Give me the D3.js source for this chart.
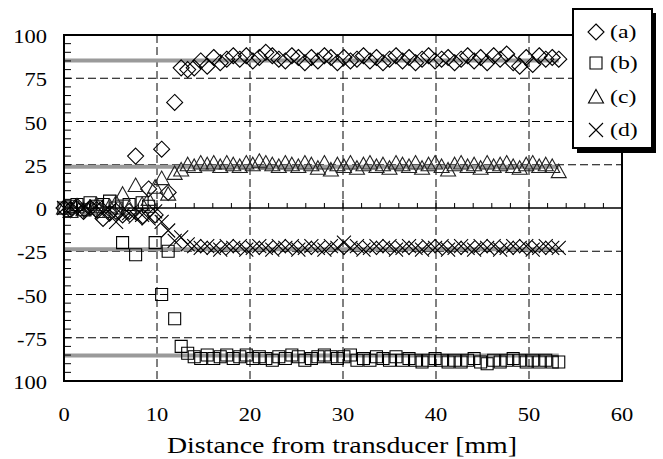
<!DOCTYPE html>
<html><head><meta charset="utf-8">
<script src="https://cdn.jsdelivr.net/npm/d3@7"></script>
<style>body{margin:0;background:#fff}svg{display:block}</style>
</head><body><svg id="c" width="663" height="459"></svg>
<script>
const distance = [0,0.7,1.4,2.1,2.8,3.5,4.2,4.9,5.6,6.3,
  7.0,7.7,8.4,9.1,9.8,10.5,11.2,11.9,12.6,13.3,
  14.0,14.7,15.4,16.1,16.8,17.5,18.2,18.9,19.6,20.3,
  21.0,21.7,22.4,23.1,23.8,24.5,25.2,25.9,26.6,27.3,
  28.0,28.7,29.4,30.1,30.8,31.5,32.2,32.9,33.6,34.3,
  35.0,35.7,36.4,37.1,37.8,38.5,39.2,39.9,40.6,41.3,
  42.0,42.7,43.4,44.1,44.8,45.5,46.2,46.9,47.6,48.3,
  49.0,49.7,50.4,51.1,51.8,52.5,53.2];
const seriesA = [0,-1,1,-2,0,-1,-6,-3,-2,-4,
  -2,30,-5,11,-4,34,9,61,81,80,
  81,85,82,87,84,86,88,86,88,85,
  87,90,88,86,85,88,87,84,87,85,
  88,87,84,87,85,86,88,85,87,84,
  86,88,85,87,84,86,88,85,86,87,
  84,86,88,85,87,84,88,86,89,84,
  82,87,83,88,86,87,86];
const seriesB = [0,1,2,-1,3,1,2,4,0,-20,
  2,-27,3,1,-20,-50,-25,-64,-80,-84,
  -86,-87,-85,-87,-86,-85,-87,-86,-85,-87,
  -86,-87,-88,-86,-87,-85,-86,-88,-87,-86,
  -85,-86,-87,-86,-85,-88,-87,-88,-86,-87,
  -88,-86,-88,-87,-88,-89,-88,-87,-88,-89,
  -88,-89,-88,-87,-89,-90,-88,-89,-88,-87,
  -88,-89,-88,-89,-88,-89,-89];
const seriesC = [0,-2,1,-1,0,2,-2,1,3,8,
  0,13,2,5,12,17,8,20,22,25,
  24,26,25,26,24,26,25,24,26,25,
  27,26,25,24,26,25,24,26,25,23,
  26,22,25,24,26,23,25,26,24,25,
  23,26,25,24,26,23,25,26,24,22,
  25,26,24,25,23,26,24,25,26,24,
  23,25,26,24,25,24,21];
const seriesD = [0,1,-1,0,-2,1,-3,-1,-8,-4,
  -3,-5,-4,-6,-2,-8,-13,-19,-17,-21,
  -22,-23,-22,-23,-24,-22,-23,-22,-24,-23,
  -22,-23,-24,-22,-23,-22,-24,-23,-22,-23,
  -24,-22,-23,-20,-23,-22,-24,-23,-22,-23,
  -22,-24,-23,-22,-23,-24,-22,-23,-22,-24,
  -23,-22,-23,-24,-22,-23,-22,-24,-23,-22,
  -23,-22,-24,-23,-22,-23,-23];
const seriesNames = ["(a)","(b)","(c)","(d)"];
const xTicks = [0,10,20,30,40,50,60];
const yTicks = [100,75,50,25,0,-25,-50,-75,-100];
const yTickLabels = ["100","75","50","25","0","-25","-50","-75","100"];
const refLevels = [85.3, 23.9, -23.9, -85.3];
const refRange = [0, 53.2];
const xTitle = "Distance from transducer [mm]";

const svg = d3.select("#c");
const x = d3.scaleLinear().domain([0,60]).range([64,622]);
const y = d3.scaleLinear().domain([-100,100]).range([381,35]);
const FONT = "'Liberation Serif','Times New Roman',serif";

const shapes = {
  diamond: "M0,-8L8,0L0,8L-8,0Z",
  square: "M-6,-6H6V6H-6Z",
  triangle: "M0,-7.5L7.5,6L-7.5,6Z",
  cross: "M-7,-7L7,7M7,-7L-7,7"
};
const series = [
  {name: seriesNames[0], values: seriesA, shape: shapes.diamond, color: "#000"},
  {name: seriesNames[1], values: seriesB, shape: shapes.square, color: "#000"},
  {name: seriesNames[2], values: seriesC, shape: shapes.triangle, color: "#222"},
  {name: seriesNames[3], values: seriesD, shape: shapes.cross, color: "#000"}
];

function stretch(sel, f){
  sel.each(function(){
    const w = this.getComputedTextLength();
    d3.select(this).attr("textLength", w*f).attr("lengthAdjust","spacingAndGlyphs");
  });
}

// grid
const g = svg.append("g");
g.selectAll(".gh").data(yTicks.filter(v => v!==0 && Math.abs(v)!==100)).join("line")
  .attr("x1", x(0)).attr("x2", x(60)).attr("y1", d=>y(d)).attr("y2", d=>y(d))
  .attr("stroke","#000").attr("stroke-width",1).attr("stroke-dasharray","8,4");
g.selectAll(".gv").data(xTicks.filter(v => v>0 && v<60)).join("line")
  .attr("x1", d=>x(d)).attr("x2", d=>x(d)).attr("y1", y(100)).attr("y2", y(-100))
  .attr("stroke","#000").attr("stroke-width",1).attr("stroke-dasharray","8,4");

// reference gray lines
g.selectAll(".ref").data(refLevels).join("line")
  .attr("x1", x(refRange[0])).attr("x2", x(refRange[1]))
  .attr("y1", d=>y(d)).attr("y2", d=>y(d))
  .attr("stroke","#9a9a9a").attr("stroke-width",4);

// zero axis with minor ticks
g.append("line").attr("x1",x(0)).attr("x2",x(60)).attr("y1",y(0)).attr("y2",y(0))
  .attr("stroke","#000").attr("stroke-width",1.5);
g.selectAll(".zt").data(d3.range(0,61,2)).join("line")
  .attr("x1", d=>x(d)).attr("x2", d=>x(d)).attr("y1", y(0)).attr("y2", d=> y(0) - (d%10===0?8:5))
  .attr("stroke","#000").attr("stroke-width",1);

// left axis ticks
g.selectAll(".yt").data(d3.range(-100,101,5)).join("line")
  .attr("x1", x(0)).attr("x2", x(0)+7).attr("y1", d=>y(d)).attr("y2", d=>y(d))
  .attr("stroke","#000").attr("stroke-width",1);

// markers
series.forEach(s => {
  svg.append("g").selectAll("path").data(s.values).join("path")
    .attr("d", s.shape)
    .attr("transform", (v,i) => `translate(${x(distance[i])},${y(v)})`)
    .attr("fill","none").attr("stroke", s.color).attr("stroke-width",1.1);
});

// frame
svg.append("rect").attr("x",x(0)).attr("y",y(100)).attr("width",x(60)-x(0)).attr("height",y(-100)-y(100))
  .attr("fill","none").attr("stroke","#000").attr("stroke-width",2);

// tick labels
svg.append("g").selectAll("text").data(yTicks).join("text")
  .attr("x", 47).attr("y", d=>y(d)+8).attr("text-anchor","end")
  .attr("font-family",FONT).attr("font-size",18).text((d,i)=>yTickLabels[i])
  .call(stretch, 1.25);
svg.append("g").selectAll("text").data(xTicks).join("text")
  .attr("x", d=>x(d)).attr("y", 421).attr("text-anchor","middle")
  .attr("font-family",FONT).attr("font-size",18).text(d=>d)
  .call(stretch, 1.25);
const t = svg.append("text").attr("x",342).attr("y",453).attr("text-anchor","middle")
  .attr("font-family",FONT).attr("font-size",24).text(xTitle);
t.attr("textLength",350).attr("lengthAdjust","spacingAndGlyphs");

// legend
const L = svg.append("g");
L.append("rect").attr("x",577).attr("y",13).attr("width",79).attr("height",140).attr("fill","#000");
L.append("rect").attr("x",573).attr("y",9).attr("width",79).attr("height",139)
  .attr("fill","#fff").attr("stroke","#000").attr("stroke-width",2);
const rowsY = [32,63,97,130];
series.forEach((s,i) => {
  L.append("path").attr("d", s.shape).attr("transform",`translate(596,${rowsY[i]})`)
    .attr("fill","none").attr("stroke","#000").attr("stroke-width",1.1);
  L.append("text").attr("x",610).attr("y",rowsY[i]+6).attr("font-family",FONT).attr("font-size",19)
    .text(s.name).call(stretch,1.25);
});
</script></body></html>
